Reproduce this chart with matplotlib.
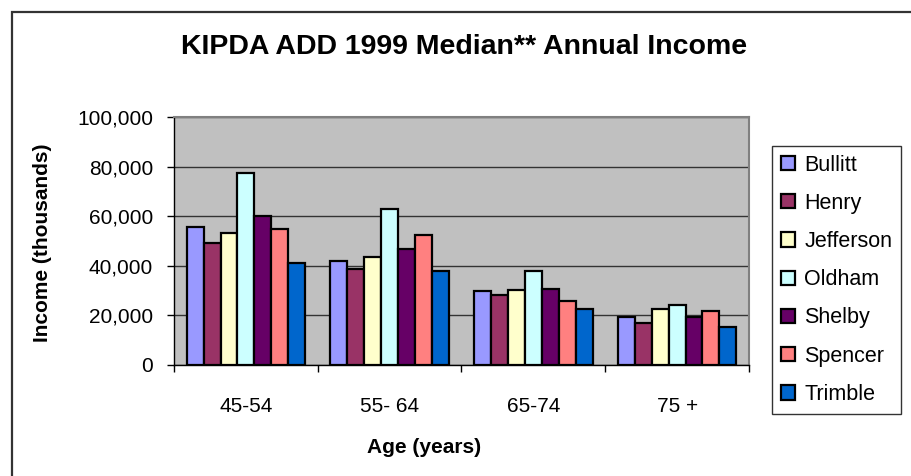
import matplotlib
matplotlib.use("Agg")
import matplotlib.pyplot as plt
from matplotlib.patches import Rectangle
from matplotlib.ticker import FuncFormatter, FixedLocator
import numpy as np

plt.rcParams['font.family'] = ['Liberation Sans', 'DejaVu Sans']

categories = ["45-54", "55- 64", "65-74", "75 +"]
counties = ["Bullitt", "Henry", "Jefferson", "Oldham", "Shelby", "Spencer", "Trimble"]
bullitt = [55500, 41800, 29700, 19200]
henry = [49100, 38600, 28100, 16900]
jefferson = [53100, 43400, 30400, 22400]
oldham = [77300, 62800, 37800, 24100]
shelby = [60200, 46600, 30500, 19200]
spencer = [54800, 52300, 25700, 21800]
trimble = [41000, 37800, 22400, 15200]
series = [bullitt, henry, jefferson, oldham, shelby, spencer, trimble]
colors = ["#9999FF", "#993366", "#FFFFCC", "#CCFFFF", "#660066", "#FF8080", "#0066CC"]
yticks = [0, 20000, 40000, 60000, 80000, 100000]

W, H = 912, 476
fig = plt.figure(figsize=(W / 100, H / 100), dpi=100)
fig.patch.set_facecolor("white")

# outer chart border (extends past right/bottom edges)
fig.add_artist(Rectangle((12 / W, -0.2), 1.2, 1 - 12 / H + 0.2, transform=fig.transFigure,
                         fill=False, edgecolor="#333333", linewidth=1.6))

L, R, T, B = 174, 749, 117, 365
ax = fig.add_axes([L / W, 1 - B / H, (R - L) / W, (B - T) / H])
ax.set_facecolor("#C0C0C0")

n = len(series)
bw = 1 / 8.5
x = np.arange(len(categories))
for i, (vals, c, name) in enumerate(zip(series, colors, counties)):
    ax.bar(x + (i - (n - 1) / 2) * bw, vals, width=bw, color=c, edgecolor="black",
           linewidth=1.6, label=name, zorder=3)

ax.set_xlim(-0.5, len(categories) - 0.5)
ax.set_ylim(0, 100000)
ax.set_yticks(yticks)
ax.yaxis.set_major_formatter(FuncFormatter(lambda v, p: f"{int(v):,}"))
ax.grid(axis="y", color="#333333", linewidth=1.0, zorder=1)
ax.set_axisbelow(True)

ax.set_xticks(x)
ax.set_xticklabels(categories)
ax.xaxis.set_minor_locator(FixedLocator(np.arange(-0.5, len(categories), 1.0)))
ax.tick_params(axis="x", which="major", length=0, pad=23, labelsize=15)
ax.tick_params(axis="x", which="minor", length=5, width=1, color="black", direction="out")
ax.tick_params(axis="y", which="major", length=5, width=1, color="black", direction="out",
               pad=10, labelsize=15)

for s in ["left", "bottom"]:
    ax.spines[s].set_color("black")
    ax.spines[s].set_linewidth(1.0)
for s in ["top", "right"]:
    ax.spines[s].set_color("#808080")
    ax.spines[s].set_linewidth(1.5)

ax.set_ylabel("Income (thousands)", fontsize=15, fontweight="bold")
ax.yaxis.set_label_coords((52 - L) / (R - L), (B - 243) / (B - T))
ax.set_xlabel("Age (years)", fontsize=15, fontweight="bold")
ax.xaxis.set_label_coords((424 - L) / (R - L), (B - 438) / (B - T))

fig.text(464 / W, 1 - 47 / H, "KIPDA ADD 1999 Median** Annual Income",
         ha="center", va="center", fontsize=20.5, fontweight="bold")

leg = ax.legend(loc="upper left", bbox_to_anchor=(772 / W, 1 - 146 / H),
                bbox_transform=fig.transFigure, fontsize=15.5, frameon=True,
                fancybox=False, edgecolor="black", borderaxespad=0,
                handlelength=0.65, handleheight=0.65, handletextpad=0.45,
                labelspacing=0.8, borderpad=0.4)
leg.get_frame().set_linewidth(1.0)

fig.savefig("out.png", dpi=100)
